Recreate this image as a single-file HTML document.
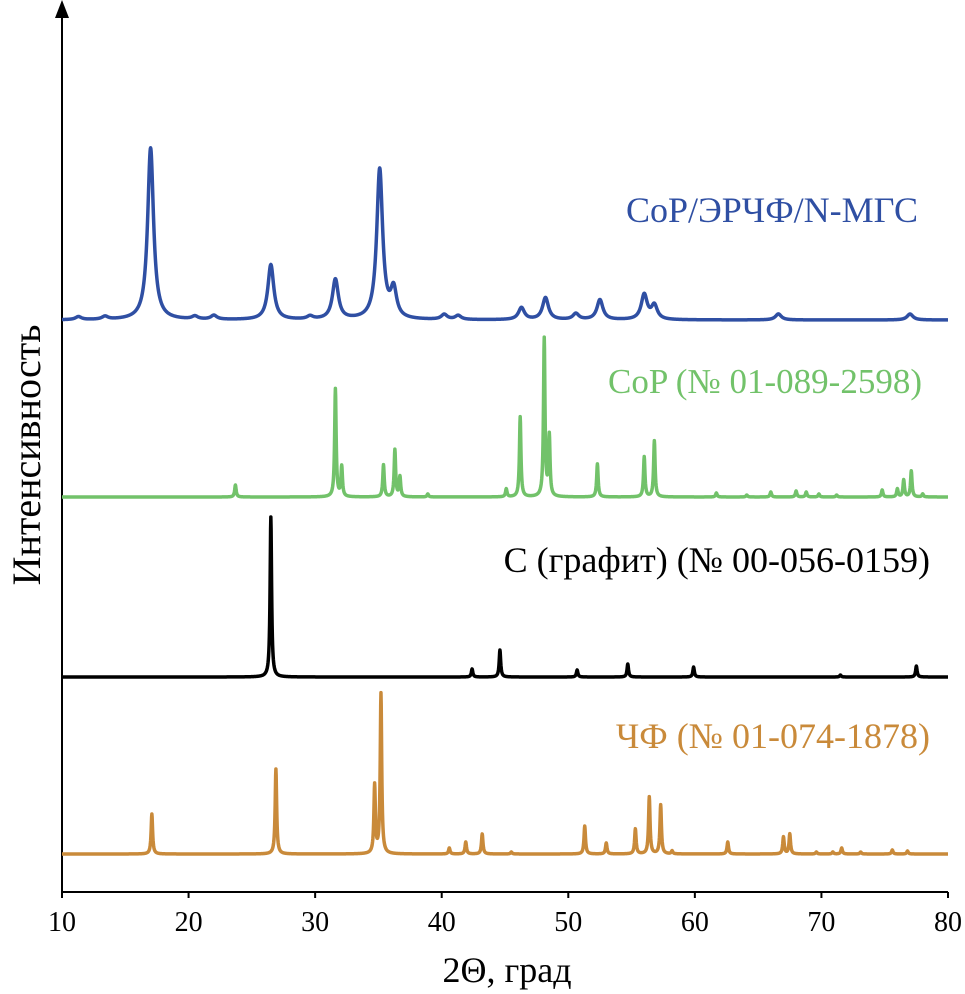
<!DOCTYPE html>
<html><head><meta charset="utf-8">
<style>
body{margin:0;background:#fff;}
svg{display:block;font-family:"Liberation Serif",serif;}
</style></head>
<body>
<svg id="chart" width="965" height="994" viewBox="0 0 965 994">
<line x1="62" y1="892" x2="948" y2="892" stroke="#000" stroke-width="2"/>
<line x1="62" y1="892" x2="62" y2="14" stroke="#000" stroke-width="2"/>
<polygon points="62,0 55,18 69,18" fill="#000"/>
<g id="ticks"></g>
<g id="series"></g>
<text x="918" y="222" font-size="36" fill="#2f4fa3" text-anchor="end">CoP/ЭРЧФ/N-МГС</text>
<text x="922" y="393" font-size="35" fill="#72c26a" text-anchor="end">CoP (№ 01-089-2598)</text>
<text x="930" y="572" font-size="36" fill="#000" text-anchor="end">C (графит) (№ 00-056-0159)</text>
<text x="930" y="748" font-size="36" fill="#c98a3a" text-anchor="end">ЧФ (№ 01-074-1878)</text>
<text x="507" y="982" font-size="36" text-anchor="middle">2Θ, град</text>
<text transform="translate(40,455) rotate(-90)" font-size="40" text-anchor="middle">Интенсивность</text>
</svg>
<script>
const xTicks=[10,20,30,40,50,60,70,80];
const bluePos=[17.0,26.5,31.6,35.1,36.2,40.2,41.3,46.3,48.2,50.6,52.5,56.0,56.8,66.6,77.0,11.3,13.4,20.5,22.0,29.6];
const blueH=[172,55,40,150,28,5,4,12,22,6,20,25,14,6,6,3,3,3,4,3];
const greenPos=[23.7,31.6,32.1,35.4,36.3,36.7,38.9,45.1,46.2,48.1,48.5,52.3,56.0,56.8,61.7,64.1,66.0,68.0,68.8,69.8,71.2,74.8,76.0,76.5,77.1,78.0];
const greenH=[12,108,30,32,47,20,3,8,80,158,60,33,40,56,4,2,5,6,5,3,2,7,8,17,26,3];
const blackPos=[26.5,42.4,44.6,50.7,54.7,59.9,71.5,77.5];
const blackH=[160,8,27,7,13,10,2,11];
const orangePos=[17.1,26.9,34.7,35.2,40.6,41.9,43.2,45.5,51.3,53.0,55.3,56.4,57.3,58.2,62.6,67.0,67.5,69.6,70.9,71.6,73.1,75.6,76.8];
const orangeH=[40,85,68,160,6,12,20,2,28,11,25,57,49,3,12,17,20,2,2,6,2,4,3];
function xs(v){return 62+(v-10)*(886/70);}
const NS='http://www.w3.org/2000/svg';
const tg=document.getElementById('ticks');
xTicks.forEach(t=>{
  const l=document.createElementNS(NS,'line');
  l.setAttribute('x1',xs(t));l.setAttribute('x2',xs(t));l.setAttribute('y1',892);l.setAttribute('y2',898);
  l.setAttribute('stroke','#000');l.setAttribute('stroke-width','2');
  
  
  tg.appendChild(l);
  const tx=document.createElementNS(NS,'text');
  tx.setAttribute('x',xs(t));tx.setAttribute('y',931);tx.setAttribute('font-size','28');tx.setAttribute('text-anchor','middle');
  tx.textContent=t;
  
  
  tg.appendChild(tx);
});
const sg=document.getElementById('series');
function draw(pos,h,base,w,color,name){
  let d='';
  for(let x=10;x<=80.0001;x+=0.02){
    let y=base;
    for(let i=0;i<pos.length;i++){const u=(x-pos[i])/w;y-=h[i]/(1+u*u);}
    d+=(d?'L':'M')+xs(x).toFixed(2)+','+y.toFixed(2);
  }
  const p=document.createElementNS(NS,'path');
  p.setAttribute('d',d);p.setAttribute('fill','none');p.setAttribute('stroke',color);p.setAttribute('stroke-width','3.5');
  p.setAttribute('stroke-linejoin','round');
  
  
  sg.appendChild(p);
}
draw(bluePos,blueH,320,0.28,'#2f4fa3','series-cop-composite');
draw(greenPos,greenH,497,0.07,'#72c26a','series-cop-reference');
draw(blackPos,blackH,677,0.07,'#000','series-graphite-reference');
draw(orangePos,orangeH,854,0.07,'#c98a3a','series-chf-reference');
</script>
</body></html>
